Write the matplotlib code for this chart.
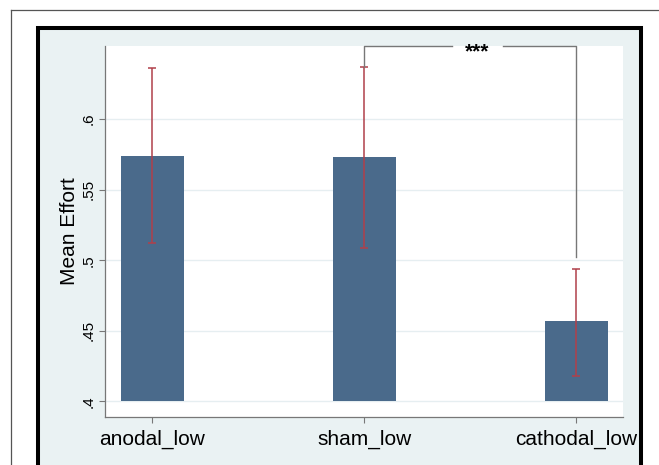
import numpy as np
import matplotlib
matplotlib.use('Agg')
import matplotlib.pyplot as plt
from matplotlib.lines import Line2D
from matplotlib.patches import Rectangle

plt.rcParams['font.family'] = ['Liberation Sans', 'DejaVu Sans']

# data
conditions = ['anodal_low', 'sham_low', 'cathodal_low']
means = [0.574, 0.573, 0.457]
ci_low = [0.512, 0.509, 0.418]
ci_high = [0.636, 0.637, 0.494]
bar_base = 0.4
yticks = [0.4, 0.45, 0.5, 0.55, 0.6]
ytick_labels = ['.4', '.45', '.5', '.55', '.6']
sig_pair = (1, 2)
sig_label = '***'
sig_right_end = 0.502

W, H = 659, 465
fig = plt.figure(figsize=(W / 100, H / 100), dpi=100)
fig.patch.set_facecolor('white')

# thin outer border (only top and left visible)
fig.add_artist(Line2D([11 / W, 11 / W], [0, 1 - 10 / H], color='#555555', lw=0.9))
fig.add_artist(Line2D([11 / W, 1], [1 - 10 / H, 1 - 10 / H], color='#555555', lw=0.9))

# graph region with thick black frame, running off the bottom
fig.add_artist(Rectangle((38 / W, -0.1), (640.5 - 38) / W, 1.1 - 28 / H,
                         transform=fig.transFigure, facecolor='#eaf2f3',
                         edgecolor='black', lw=2.9, zorder=0))

ax = fig.add_axes([105 / W, 1 - 417 / H, 518 / W, 371 / H])
ax.set_facecolor('white')

x = np.arange(len(conditions))
means_arr = np.array(means)
ax.bar(x, means_arr - bar_base, width=0.30, bottom=bar_base, color='#4a6a8b', zorder=2)
yerr = [means_arr - np.array(ci_low), np.array(ci_high) - means_arr]
ax.errorbar(x, means, yerr=yerr, fmt='none', ecolor='#b0404a', elinewidth=1.1,
            capsize=3, capthick=1.1, zorder=3)

ax.set_xlim(-0.224, 2.22)
ax.set_ylim(0.389, 0.6517)
ax.set_yticks(yticks)
ax.set_yticklabels(ytick_labels, rotation=90, va='center', fontsize=11)
ax.set_xticks(x)
ax.set_xticklabels(conditions, fontsize=15)
ax.yaxis.grid(True, color='#e6eef1', lw=1.0, zorder=0)
ax.set_axisbelow(True)

for side in ['top', 'right']:
    ax.spines[side].set_visible(False)
for side in ['left', 'bottom']:
    ax.spines[side].set_color('#777777')
    ax.spines[side].set_linewidth(0.9)
ax.tick_params(axis='both', colors='#777777', length=4, width=0.8,
               labelcolor='black')
ax.tick_params(axis='x', pad=5)
ax.tick_params(axis='y', pad=3)

ax.set_ylabel('Mean Effort', fontsize=15)
ax.yaxis.set_label_coords(-0.05, 0.5)

# significance bracket with a gap for the stars
top = ax.get_ylim()[1]
i, j = sig_pair
star_x = 1.532
gap = 0.12
ax.plot([i, i, star_x - gap], [ci_high[i], top, top], color='#777777',
        lw=1.0, clip_on=False, zorder=4)
ax.plot([star_x + gap, j, j], [top, top, sig_right_end], color='#777777',
        lw=1.0, clip_on=False, zorder=4)
ax.annotate(sig_label, (star_x, top), xytext=(0, -4), textcoords='offset points',
            ha='center', va='center', fontsize=15, fontweight='bold',
            annotation_clip=False, zorder=5)

fig.savefig('out.png', dpi=100)
